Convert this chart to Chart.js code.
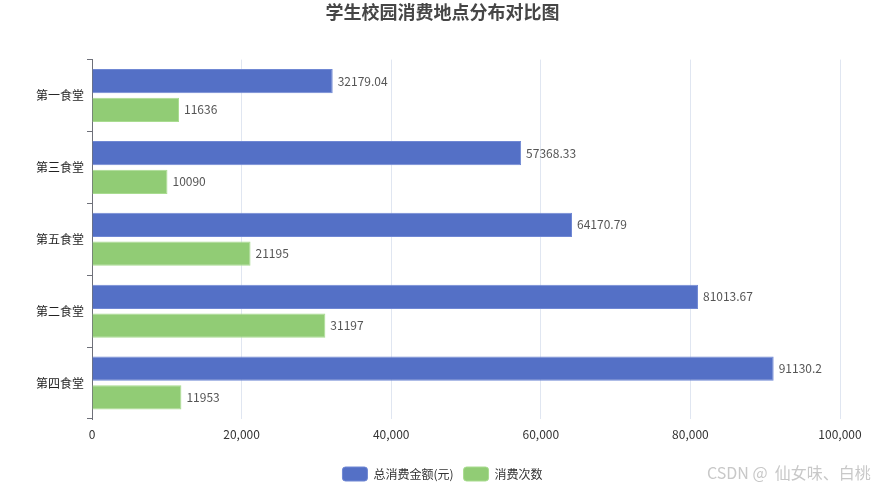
<!DOCTYPE html>
<html>
<head>
<meta charset="utf-8">
<script src="https://cdn.jsdelivr.net/npm/chart.js@4/dist/chart.umd.min.js"></script>
<style>
  html, body { margin: 0; padding: 0; background: #fff; }
  #wrap { width: 885px; height: 487px; position: relative; }
</style>
</head>
<body>
<div id="wrap"><canvas id="myChart"></canvas></div>
<script>
const titleText = '学生校园消费地点分布对比图';
const places = ['第一食堂', '第三食堂', '第五食堂', '第二食堂', '第四食堂'];
const totalAmount = [32179.04, 57368.33, 64170.79, 81013.67, 91130.2];
const payCount = [11636, 10090, 21195, 31197, 11953];
const seriesNames = ['总消费金额(元)', '消费次数'];
const xMax = 100000;
const xStep = 20000;

const FONT = '"Noto Sans CJK SC", "Noto Sans", sans-serif';
Chart.defaults.font.family = FONT;
Chart.defaults.font.size = 12;
Chart.defaults.color = '#333';

// value labels at end of each bar
const barLabels = {
    id: 'barLabels',
    afterDatasetsDraw(chart) {
        const c = chart.ctx;
        c.save();
        c.font = '12px ' + FONT;
        c.fillStyle = '#555';
        c.textBaseline = 'middle';
        c.textAlign = 'left';
        chart.data.datasets.forEach((ds, i) => {
            chart.getDatasetMeta(i).data.forEach((bar, j) => {
                c.fillText(String(ds.data[j]), bar.x + 5, bar.y);
            });
        });
        c.restore();
    }
};

// title + legend are centred on the whole canvas, not on the padded area
const centreBoxes = {
    id: 'centreBoxes',
    afterLayout(chart) {
        [chart.legend, chart.titleBlock].forEach(box => {
            if (!box) return;
            const shift = (chart.width - (box.right - box.left)) / 2 - box.left;
            box.left += shift;
            box.right += shift;
        });
    }
};

// watermark bottom right
const watermark = {
    id: 'watermark',
    afterDraw(chart) {
        const c = chart.ctx;
        c.save();
        c.font = '16px ' + FONT;
        c.fillStyle = '#c8c8c8';
        c.textBaseline = 'middle';
        c.textAlign = 'left';
        c.fillText('CSDN @  仙女味、白桃', 707, 473);
        c.restore();
    }
};

const ctx = document.querySelector('#myChart').getContext('2d');
const myChart = new Chart(ctx, {
    type: 'bar',
    data: {
        labels: places,
        datasets: [{
            label: seriesNames[0],
            data: totalAmount,
            backgroundColor: '#5470c6',
            borderColor: '#7088d4',
            borderWidth: 1
        }, {
            label: seriesNames[1],
            data: payCount,
            backgroundColor: '#91cc75',
            borderColor: '#a9dc90',
            borderWidth: 1
        }]
    },
    options: {
        indexAxis: 'y',
        responsive: true,
        maintainAspectRatio: false,
        animation: false,
        layout: { padding: { left: 0, right: 45, top: 0, bottom: -4 } },
        datasets: { bar: { categoryPercentage: 0.8, barPercentage: 0.845 } },
        scales: {
            x: {
                min: 0,
                max: xMax,
                ticks: {
                    stepSize: xStep,
                    padding: 8,
                    color: '#333',
                    callback: v => v.toLocaleString('en-US')
                },
                grid: { color: '#E0E6F1', drawTicks: false },
                border: { display: false },
                afterFit: s => { s.height = 38; }
            },
            y: {
                offset: true,
                ticks: { color: '#222', padding: 3 },
                grid: {
                    offset: true,
                    drawOnChartArea: false,
                    color: '#6E7079',
                    tickLength: 5
                },
                border: { display: true, color: '#6E7079' },
                afterFit: s => { s.width = 92; }
            }
        },
        plugins: {
            title: {
                display: true,
                text: titleText,
                color: '#464646',
                font: { size: 18, weight: 'bold' },
                padding: { top: 1, bottom: 37 }
            },
            legend: {
                position: 'bottom',
                labels: {
                    boxWidth: 25,
                    boxHeight: 14,
                    color: '#333',
                    padding: 10,
                    useBorderRadius: true,
                    borderRadius: 3
                }
            },
            tooltip: { enabled: false }
        }
    },
    plugins: [barLabels, centreBoxes, watermark]
});
</script>
</body>
</html>
